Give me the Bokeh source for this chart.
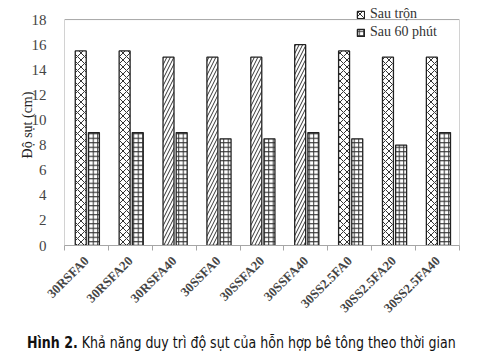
import numpy as np
from bokeh.plotting import figure
from bokeh.layouts import column
from bokeh.models import (ColumnDataSource, FixedTicker, Legend, LegendItem,
                          Range1d, Div)
from bokeh.embed import file_html
from bokeh.resources import INLINE

categories = ["30RSFA0", "30RSFA20", "30RSFA40", "30SSFA0", "30SSFA20",
              "30SSFA40", "30SS2.5FA0", "30SS2.5FA20", "30SS2.5FA40"]
sau_tron = [15.5, 15.5, 15.0, 15.0, 15.0, 16.0, 15.5, 15.0, 15.0]
sau_60 = [9.0, 9.0, 9.0, 8.5, 8.5, 9.0, 8.5, 8.0, 9.0]
patterns_tron = ["x", "x", "/", "/", "/", "/", "x", "x", "x"]
y_ticks = list(range(0, 19, 2))
series_names = ["Sau trộn", "Sau 60 phút"]
caption_bold = "Hình 2."
caption_rest = "Khả năng duy trì độ sụt của hỗn hợp bê tông theo thời gian"

n = len(categories)
y_max = y_ticks[-1]
centers = np.arange(n) + 0.5
src = ColumnDataSource(dict(
    x1=centers - 0.13, x2=centers + 0.17,
    tron=sau_tron, s60=sau_60, pat=patterns_tron,
))

p = figure(width=468, height=322, output_backend="svg", toolbar_location=None,
           x_range=Range1d(0, n), y_range=Range1d(0, y_max * 19.2 / 18),
           frame_width=395, frame_height=241,
           min_border_left=64, min_border_right=9, min_border_top=4,
           min_border_bottom=77)
p.background_fill_color = "white"
p.border_fill_color = "white"
p.outline_line_color = None
p.xgrid.visible = False
p.ygrid.visible = False

# plot-area border (Excel style frame up to the top tick)
p.quad(left=0, right=n, bottom=0, top=y_max, fill_color=None,
       line_color="#a6a6a6", line_width=1)

r1 = p.vbar(x="x1", top="tron", width=0.25, source=src, fill_color="white",
            line_color="#222222", line_width=1.3, hatch_pattern="pat",
            hatch_color="#333333", hatch_scale=7, hatch_weight=1.0)
r2 = p.vbar(x="x2", top="s60", width=0.25, source=src, fill_color="white",
            line_color="#222222", line_width=1.3, hatch_pattern="+",
            hatch_color="#333333", hatch_scale=4.5, hatch_weight=1.0)

# axes
xa = p.xaxis[0]
xa.ticker = FixedTicker(ticks=list(centers), minor_ticks=list(range(n + 1)))
xa.major_label_overrides = {float(c): lab for c, lab in zip(centers, categories)}
xa.major_label_orientation = np.pi / 4
xa.major_tick_line_color = None
xa.minor_tick_line_color = "#a6a6a6"
xa.minor_tick_out = 5
xa.minor_tick_in = 0
xa.axis_line_color = "#a6a6a6"
xa.major_label_text_font = "Liberation Serif"
xa.major_label_text_font_style = "bold"
xa.major_label_text_font_size = "13px"
xa.major_label_text_color = "#444444"
xa.major_label_standoff = 7

ya = p.yaxis[0]
ya.ticker = FixedTicker(ticks=y_ticks)
ya.major_tick_line_color = None
ya.minor_tick_line_color = None
ya.axis_line_color = None
ya.major_label_text_font = "Liberation Serif"
ya.major_label_text_font_size = "15px"
ya.major_label_text_color = "#444444"
ya.major_label_standoff = 12
ya.axis_label = "Độ sụt (cm)"
ya.axis_label_text_font = "Liberation Serif"
ya.axis_label_text_font_style = "normal"
ya.axis_label_text_font_size = "14px"
ya.axis_label_text_color = "#222222"
ya.axis_label_standoff = -6

legend = Legend(items=[LegendItem(label=series_names[0], renderers=[r1]),
                       LegendItem(label=series_names[1], renderers=[r2])],
                location=(292, 204), orientation="vertical",
                background_fill_alpha=0, border_line_color=None,
                glyph_width=9, glyph_height=9, label_height=18,
                label_standoff=5, spacing=0, padding=0, margin=0,
                label_text_font="Liberation Serif", label_text_font_size="14px",
                label_text_color="#333333")
p.add_layout(legend, "center")

caption = Div(
    text=('<div style="white-space:nowrap;padding-left:27px;">'
          '<span style="display:inline-block;font-family:\'Liberation Sans Narrow\',\'DejaVu Sans Condensed\',sans-serif;'
          'font-size:14px;color:#111;transform:scaleY(1.17);transform-origin:0 0;">'
          f'<b>{caption_bold}</b> {caption_rest}</span></div>'),
    width=468, height=30, margin=(7, 0, 0, 0))

layout = column(p, caption, spacing=0)
open("out.html", "w").write(file_html(layout, INLINE))
